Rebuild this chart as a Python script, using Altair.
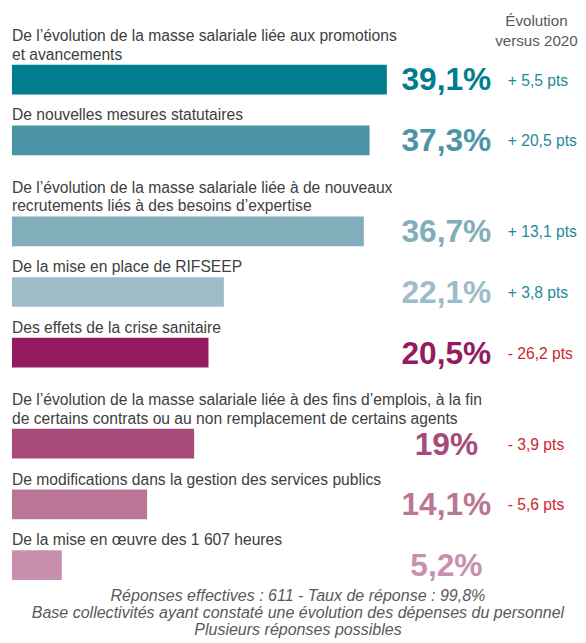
import altair as alt
import pandas as pd

# ---- data ----
categories = [
    "De l’évolution de la masse salariale liée aux promotions\net avancements",
    "De nouvelles mesures statutaires",
    "De l’évolution de la masse salariale liée à de nouveaux\nrecrutements liés à des besoins d’expertise",
    "De la mise en place de RIFSEEP",
    "Des effets de la crise sanitaire",
    "De l’évolution de la masse salariale liée à des fins d’emplois, à la fin\nde certains contrats ou au non remplacement de certains agents",
    "De modifications dans la gestion des services publics",
    "De la mise en œuvre des 1 607 heures",
]
values = [39.1, 37.3, 36.7, 22.1, 20.5, 19.0, 14.1, 5.2]
value_labels = ["39,1%", "37,3%", "36,7%", "22,1%", "20,5%", "19%", "14,1%", "5,2%"]
evolution = [5.5, 20.5, 13.1, 3.8, -26.2, -3.9, -5.6, 0.0]
evolution_labels = ["+ 5,5 pts", "+ 20,5 pts", "+ 13,1 pts", "+ 3,8 pts",
                    "- 26,2 pts", "- 3,9 pts", "- 5,6 pts", ""]
bar_colors = ["#007e8f", "#4c95a6", "#82adba", "#9cbcc7",
              "#951b61", "#a64b7a", "#b97795", "#c98fae"]
header_lines = ["Évolution", "versus 2020"]
footer_lines = [
    "Réponses effectives : 611 - Taux de réponse : 99,8%",
    "Base collectivités ayant constaté une évolution des dépenses du personnel",
    "Plusieurs réponses possibles",
]

POS_COLOR = "#1f8a99"
NEG_COLOR = "#d0262d"
FONT = "Liberation Sans"
LABEL_LH = 19          # px between label lines
UNIT_PX = 30.67        # px per row unit on the y scale

# row slot: each row advances by one bar plus the number of label lines
slots, lines = [], []
cur = 0
for i, c in enumerate(categories):
    n_lines = c.count("\n") + 1
    if i > 0:
        cur += 1 + n_lines
    slots.append(cur)
    lines.append(n_lines)

df = pd.DataFrame({
    "category": categories,
    "value": values,
    "value_label": value_labels,
    "evolution": evolution,
    "evo_label": evolution_labels,
    "slot": slots,
    "lines": lines,
})

x_scale = alt.Scale(domain=[0, 57.8], zero=False, nice=False)
y_scale = alt.Scale(domain=[-2.185, 16.5], reverse=True, zero=False, nice=False)
color_scale = alt.Scale(domain=categories, range=bar_colors)

base = alt.Chart(df).transform_calculate(
    top="datum.slot - 0.49",
    bottom="datum.slot + 0.49",
    label_y=f"datum.slot - 0.49 - (datum.lines - 1) * {LABEL_LH / UNIT_PX}",
    zero="0",
)

bars = base.mark_rect().encode(
    x=alt.X("zero:Q", scale=x_scale, axis=None),
    x2="value:Q",
    y=alt.Y("top:Q", scale=y_scale, axis=None),
    y2="bottom:Q",
    color=alt.Color("category:N", scale=color_scale, legend=None),
)

labels = base.mark_text(
    align="left", baseline="bottom", dy=-2, fontSize=15.8, font=FONT,
    color="#404040", lineBreak="\n", lineHeight=LABEL_LH,
).encode(
    x=alt.X("zero:Q", scale=x_scale, axis=None),
    y=alt.Y("label_y:Q", scale=y_scale, axis=None),
    text="category:N",
)

pct = base.mark_text(
    align="center", baseline="middle", dy=1, fontSize=32, fontWeight="bold", font=FONT,
).encode(
    x=alt.value(439),
    y=alt.Y("slot:Q", scale=y_scale, axis=None),
    text="value_label:N",
    color=alt.Color("category:N", scale=color_scale, legend=None),
)

evo = base.mark_text(
    align="left", baseline="middle", dy=1, fontSize=15.8, font=FONT,
).encode(
    x=alt.value(501),
    y=alt.Y("slot:Q", scale=y_scale, axis=None),
    text="evo_label:N",
    color=alt.condition("datum.evolution > 0", alt.value(POS_COLOR), alt.value(NEG_COLOR)),
)

header = alt.Chart(pd.DataFrame({"t": ["\n".join(header_lines)]})).mark_text(
    align="center", baseline="middle", fontSize=15.3, font=FONT, color="#595959",
    lineBreak="\n", lineHeight=20,
).encode(
    x=alt.value(530),
    y=alt.value(8),
    text="t:N",
)

chart = alt.layer(bars, labels, pct, evo, header).properties(
    width=560,
    height=573,
    autosize=alt.AutoSizeParams(type="none"),
    padding={"left": 4, "top": 2, "right": 12, "bottom": 56},
    title=alt.Title(
        footer_lines, orient="bottom", anchor="middle", frame="group",
        fontStyle="italic", fontWeight="normal", fontSize=16.2, font=FONT,
        color="#595959", lineHeight=17.5, offset=6, dx=9,
    ),
).configure_view(stroke=None)

chart.save("out.html", embed_options={"renderer": "svg", "actions": False})
